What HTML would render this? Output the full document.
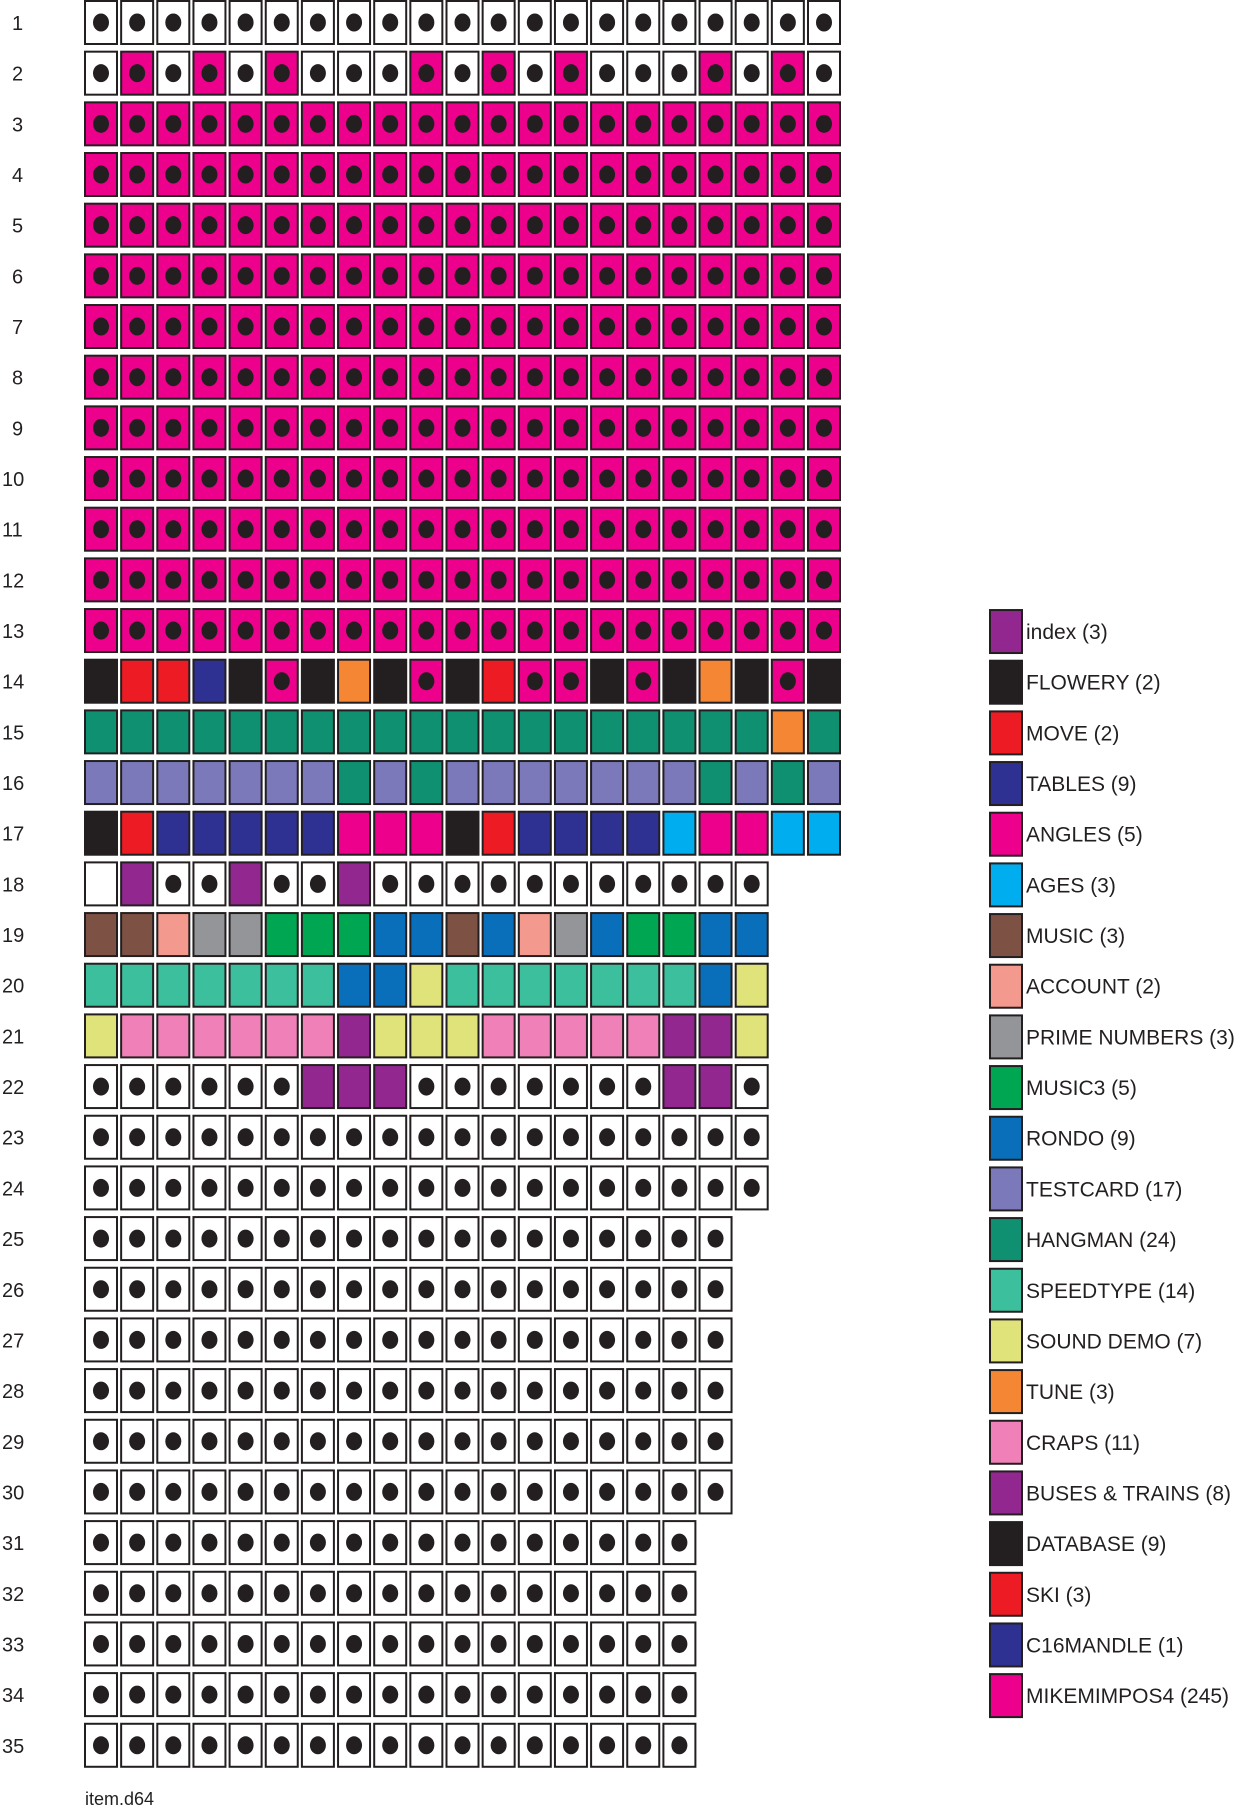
<!DOCTYPE html>
<html><head><meta charset="utf-8"><style>body{margin:0;background:#fff}svg{display:block}</style></head>
<body>
<svg id="s" width="1242" height="1809" xmlns="http://www.w3.org/2000/svg" font-family="'Liberation Sans', sans-serif"></svg>
<script>
const C={W:'#fff',w:'#fff',M:'#ec008c',m:'#ec008c',K:'#231f20',R:'#ed1c24',N:'#2e3192',O:'#f58634',G:'#0f9070',T:'#7b79b9',c:'#00aeef',P:'#92278f',b:'#7d5245',a:'#f4998d',g:'#939598',n:'#00a651',B:'#0a6fba',S:'#3cbf9c',Y:'#dfe37a',k:'#f081b8'};
const dot=new Set(['W','M']);
const rows=[];
rows.push('W'.repeat(21));
rows.push('WMWMWMWWWMWMWMWWWMWMW');
for(let i=0;i<11;i++)rows.push('M'.repeat(21));
rows.push('KRRNKMKOKMKRMMKMKOKMK');
rows.push('GGGGGGGGGGGGGGGGGGGOG');
rows.push('TTTTTTTGTGTTTTTTTGTGT');
rows.push('KRNNNNNmmmKRNNNNcmmcc');
rows.push('wPWWPWWPWWWWWWWWWWW');
rows.push('bbaggnnnBBbBagBnnBB');
rows.push('SSSSSSSBBYSSSSSSSBY');
rows.push('YkkkkkkPYYYkkkkkPPY');
rows.push('WWWWWWPPPWWWWWWWPPW');
rows.push('W'.repeat(19));rows.push('W'.repeat(19));
for(let i=0;i<6;i++)rows.push('W'.repeat(18));
for(let i=0;i<5;i++)rows.push('W'.repeat(17));
const P=50.67;
let h='';
rows.forEach((r,ri)=>{
  const y=1+ri*P;
  const n=ri+1;
  h+=`<text x="${n<10?12:2}" y="${y+29}" font-size="20" fill="#231f20">${n}</text>`;
  [...r].forEach((ch,ci)=>{
    const x=85+ci*36.15;
    h+=`<rect x="${x}" y="${y}" width="32" height="43" fill="${C[ch]}" stroke="#231f20" stroke-width="2"/>`;
    if(dot.has(ch))h+=`<ellipse cx="${x+16}" cy="${y+21.5}" rx="8" ry="9" fill="#231f20"/>`;
  });
});
const leg=[['P','index (3)'],['K','FLOWERY (2)'],['R','MOVE (2)'],['N','TABLES (9)'],['M','ANGLES (5)'],['c','AGES (3)'],['b','MUSIC (3)'],['a','ACCOUNT (2)'],['g','PRIME NUMBERS (3)'],['n','MUSIC3 (5)'],['B','RONDO (9)'],['T','TESTCARD (17)'],['G','HANGMAN (24)'],['S','SPEEDTYPE (14)'],['Y','SOUND DEMO (7)'],['O','TUNE (3)'],['k','CRAPS (11)'],['P','BUSES &amp; TRAINS (8)'],['K','DATABASE (9)'],['R','SKI (3)'],['N','C16MANDLE (1)'],['M','MIKEMIMPOS4 (245)']];
leg.forEach((l,i)=>{
  const y=1+(12+i)*P;
  h+=`<rect x="990" y="${y+1}" width="32" height="43" fill="${C[l[0]]}" stroke="#231f20" stroke-width="2"/>`;
  h+=`<text x="1026" y="${y+30}" font-size="21" fill="#231f20">${l[1]}</text>`;
});
h+=`<text x="85" y="1805" font-size="18" fill="#231f20">item.d64</text>`;
document.getElementById('s').innerHTML=h;
</script>
</body></html>
